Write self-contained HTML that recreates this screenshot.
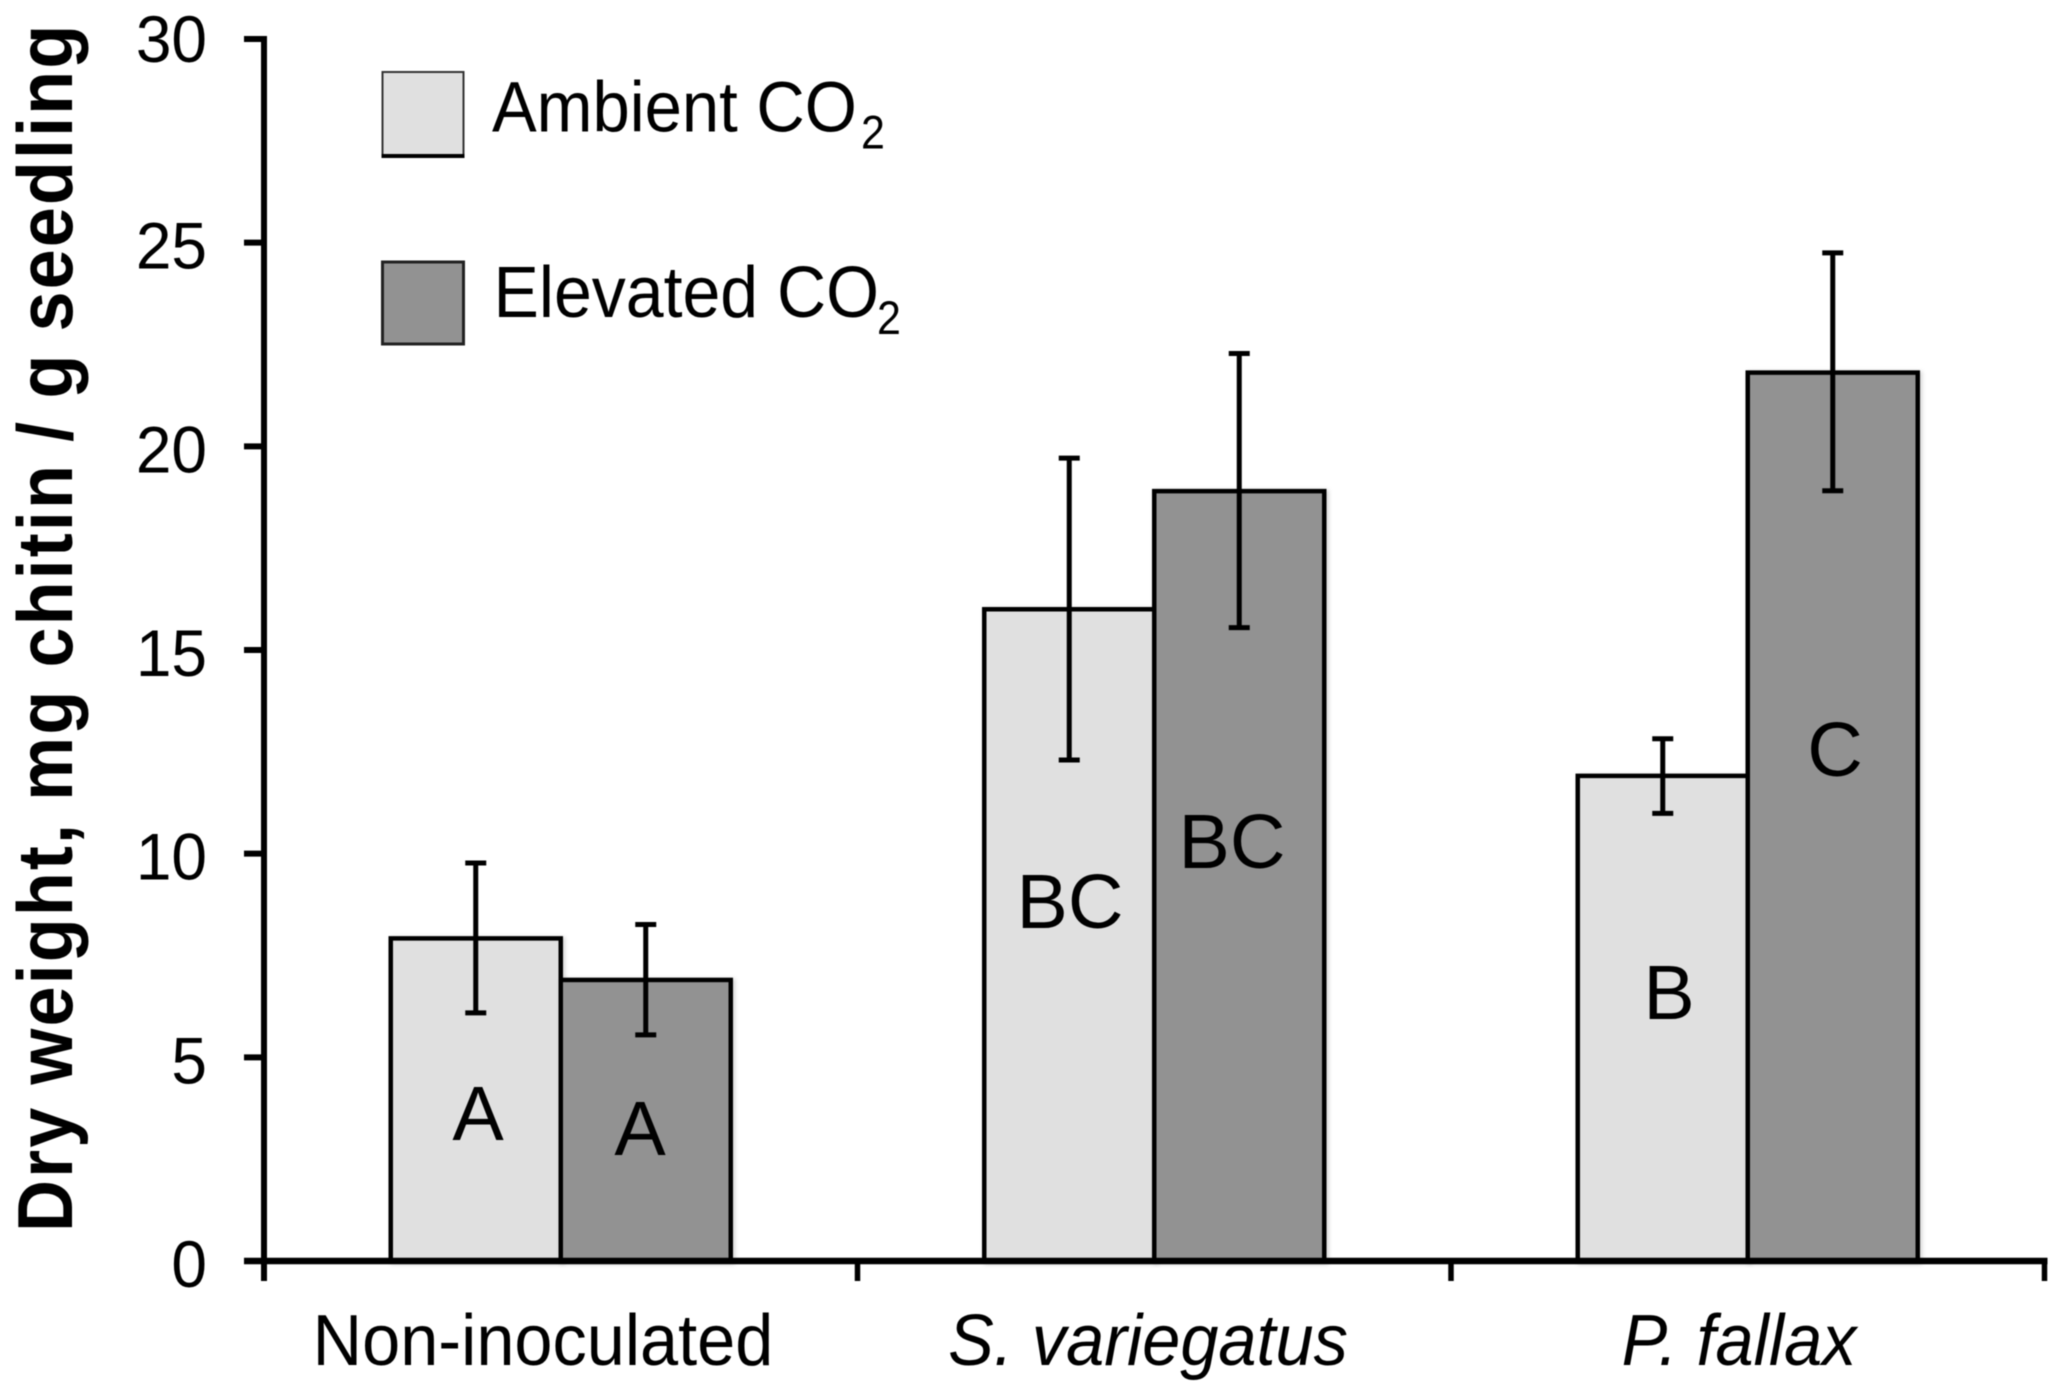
<!DOCTYPE html>
<html lang="en">
<head>
<meta charset="utf-8">
<title>Dry weight chart</title>
<style>
html,body{margin:0;padding:0;background:#fff;}
svg{display:block;filter:blur(0.5px);}
text{font-family:"Liberation Sans",sans-serif;fill:#000;}
</style>
</head>
<body>
<svg id="chart" xmlns="http://www.w3.org/2000/svg" width="2067" height="1397" viewBox="0 0 2067 1397">
  <defs>
    <filter id="bar-shadow" x="-5%" y="-5%" width="110%" height="110%">
      <feDropShadow dx="2" dy="1" stdDeviation="2" flood-color="#000" flood-opacity="0.18"/>
    </filter>
  </defs>
  <rect width="2067" height="1397" fill="#ffffff"/>
  <g id="bars"></g>
  <g id="errors"></g>
  <g id="axes"></g>

  <text transform="translate(72,1232) rotate(-90) scale(1,1.08)" font-size="72" font-weight="bold" letter-spacing="2.1" word-spacing="-1">Dry weight, mg chitin / g seedling</text>

  <g>
    <g>
      <rect x="382.5" y="72" width="81" height="84" fill="#e0e0e0" stroke="#333" stroke-width="2"/>
      <rect x="381.5" y="154" width="83" height="4" fill="#000"/>
      <text transform="translate(492,131.5) scale(1,1.07)" font-size="67">Ambient CO</text>
      <text transform="translate(861,148.5) scale(1,1.1)" font-size="43">2</text>
    </g>
    <g>
      <rect x="382.5" y="262" width="81" height="82" fill="#929292" stroke="#222" stroke-width="3"/>
      <text transform="translate(493.5,317) scale(1,1.07)" font-size="68">Elevated CO</text>
      <text transform="translate(877,334) scale(1,1.1)" font-size="43">2</text>
    </g>
  </g>

  <g font-size="77">
    <text x="478" y="1140" text-anchor="middle">A</text>
    <text x="640" y="1155" text-anchor="middle">A</text>
    <text x="1070" y="928" text-anchor="middle">BC</text>
    <text x="1232" y="868" text-anchor="middle">BC</text>
    <text x="1669" y="1019" text-anchor="middle">B</text>
    <text x="1835" y="776" text-anchor="middle">C</text>
  </g>

  <g font-size="68.5" text-anchor="middle">
    <text transform="translate(543,1365) scale(1,1.05)">Non-inoculated</text>
    <text transform="translate(1148,1365) scale(1,1.05)" font-style="italic">S. variegatus</text>
    <text transform="translate(1739,1365) scale(1,1.05)" font-style="italic">P. fallax</text>
  </g>
</svg>
<script>
const categories = ['Non-inoculated', 'S. variegatus', 'P. fallax'];
const yTicks = [0, 5, 10, 15, 20, 25, 30];
const ambientValues = [7.92, 16.0, 11.91];
const elevatedValues = [6.9, 18.9, 21.81];
const ambientErrorHigh = [9.77, 19.71, 12.82];
const ambientErrorLow = [6.09, 12.3, 10.99];
const elevatedErrorHigh = [8.26, 22.28, 24.75];
const elevatedErrorLow = [5.55, 15.55, 18.91];

const NS = 'http://www.w3.org/2000/svg';
const plotLeft = 264, plotRight = 2044.5, plotBase = 1261, plotTop = 39, yMax = 30;
const barWidth = 170;

function yScale(v) { return plotBase - (v / yMax) * (plotBase - plotTop); }
function xBand(i) { return plotLeft + (plotRight - plotLeft) * (i / categories.length); }
function xCenter(i) { return xBand(i + 0.5); }

function mk(tag, attrs, parent) {
  const el = document.createElementNS(NS, tag);
  for (const k in attrs) el.setAttribute(k, attrs[k]);
  parent.appendChild(el);
  return el;
}

const barsG = document.getElementById('bars');
const errorsG = document.getElementById('errors');
const axesG = document.getElementById('axes');

function drawBar(i, value, x, fill, name) {
  const y = yScale(value);
  const el = mk('rect', { x: x, y: y, width: barWidth, height: plotBase - y, fill: fill, stroke: '#000', 'stroke-width': 4.5, filter: 'url(#bar-shadow)' }, barsG);
  
  
}

function drawError(cx, high, low, name) {
  const yh = yScale(high), yl = yScale(low);
  const stem = mk('line', { x1: cx, x2: cx, y1: yh, y2: yl, stroke: '#000', 'stroke-width': 5 }, errorsG);
  
  
  const capTop = mk('line', { x1: cx - 10.5, x2: cx + 10.5, y1: yh, y2: yh, stroke: '#000', 'stroke-width': 5 }, errorsG);
  
  
  const capLow = mk('line', { x1: cx - 10.5, x2: cx + 10.5, y1: yl, y2: yl, stroke: '#000', 'stroke-width': 5 }, errorsG);
  
  
}

categories.forEach(function (c, i) {
  const cx = xCenter(i);
  const slug = c.toLowerCase().replace(/[^a-z]+/g, '-');
  drawBar(i, ambientValues[i], cx - barWidth, '#e0e0e0', 'bar-ambient-' + slug);
  drawBar(i, elevatedValues[i], cx, '#929292', 'bar-elevated-' + slug);
  drawError(cx - barWidth / 2, ambientErrorHigh[i], ambientErrorLow[i], 'error-ambient-' + slug);
  drawError(cx + barWidth / 2, elevatedErrorHigh[i], elevatedErrorLow[i], 'error-elevated-' + slug);
});

const yAxis = mk('line', { x1: plotLeft, x2: plotLeft, y1: plotTop - 3, y2: plotBase + 20, stroke: '#000', 'stroke-width': 6 }, axesG);



const xAxis = mk('line', { x1: 244, x2: plotRight + 3, y1: plotBase, y2: plotBase, stroke: '#000', 'stroke-width': 6.5 }, axesG);



yTicks.forEach(function (t) {
  const y = yScale(t);
  const tick = mk('line', { x1: 244, x2: plotLeft, y1: y, y2: y, stroke: '#000', 'stroke-width': 6 }, axesG);
  
  
  const label = mk('text', { transform: 'translate(207,' + (y + (t === yMax ? 23 : 26)) + ') scale(1,1.03)', 'font-size': 64, 'text-anchor': 'end' }, axesG);
  label.textContent = String(t);
  
  
});

for (let i = 1; i <= categories.length; i++) {
  const x = xBand(i);
  const tick = mk('line', { x1: x, x2: x, y1: plotBase, y2: plotBase + 20, stroke: '#000', 'stroke-width': 5.5 }, axesG);
  
  
}
</script>
</body>
</html>
